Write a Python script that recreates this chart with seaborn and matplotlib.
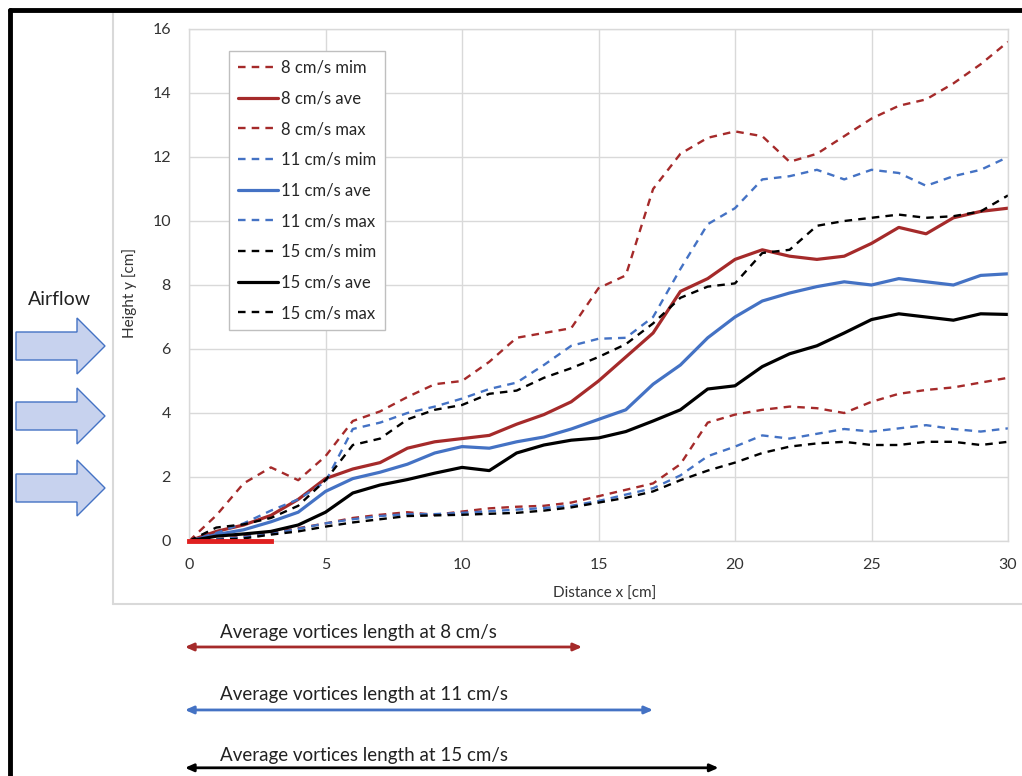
import numpy as np
import pandas as pd
import seaborn as sns
import matplotlib.pyplot as plt
from matplotlib.patches import Polygon
from matplotlib.lines import Line2D

# distance along the bed [cm]
x_cm = list(range(31))

# 8 cm/s
min_8 = [0, 0.05, 0.15, 0.25, 0.4, 0.55, 0.72, 0.82, 0.9, 0.82, 0.92, 1.02, 1.07, 1.1, 1.2, 1.4,
         1.6, 1.8, 2.4, 3.7, 3.95, 4.1, 4.2, 4.15, 4.0, 4.35, 4.6, 4.72, 4.8, 4.95, 5.1]
ave_8 = [0, 0.3, 0.5, 0.8, 1.3, 1.95, 2.25, 2.45, 2.9, 3.1, 3.2, 3.3, 3.65, 3.95, 4.35, 5.0,
         5.75, 6.5, 7.8, 8.2, 8.8, 9.1, 8.9, 8.8, 8.9, 9.3, 9.8, 9.6, 10.1, 10.3, 10.4]
max_8 = [0, 0.8, 1.8, 2.3, 1.9, 2.65, 3.75, 4.05, 4.5, 4.9, 5.0, 5.6, 6.35, 6.5, 6.65, 7.9,
         8.3, 11.0, 12.1, 12.6, 12.8, 12.65, 11.85, 12.1, 12.65, 13.2, 13.6, 13.8, 14.3, 14.9, 15.6]

# 11 cm/s
min_11 = [0, 0.05, 0.12, 0.22, 0.38, 0.55, 0.68, 0.78, 0.84, 0.84, 0.88, 0.93, 0.98, 1.03, 1.1, 1.25,
          1.45, 1.65, 2.05, 2.65, 2.95, 3.3, 3.2, 3.35, 3.5, 3.42, 3.52, 3.62, 3.5, 3.42, 3.52]
ave_11 = [0, 0.2, 0.35, 0.6, 0.9, 1.55, 1.95, 2.15, 2.4, 2.75, 2.95, 2.9, 3.1, 3.25, 3.5, 3.8,
          4.1, 4.9, 5.5, 6.35, 7.0, 7.5, 7.75, 7.95, 8.1, 8.0, 8.2, 8.1, 8.0, 8.3, 8.35]
max_11 = [0, 0.25, 0.55, 0.95, 1.3, 1.85, 3.5, 3.7, 4.0, 4.2, 4.45, 4.75, 4.95, 5.5, 6.1, 6.32,
          6.35, 7.0, 8.5, 9.9, 10.4, 11.3, 11.4, 11.6, 11.3, 11.6, 11.5, 11.1, 11.4, 11.6, 12.0]

# 15 cm/s
min_15 = [0, 0.03, 0.08, 0.2, 0.3, 0.45, 0.58, 0.68, 0.78, 0.8, 0.82, 0.85, 0.88, 0.95, 1.05, 1.2,
          1.35, 1.55, 1.9, 2.2, 2.45, 2.75, 2.95, 3.05, 3.1, 3.0, 3.0, 3.1, 3.1, 3.0, 3.1]
ave_15 = [0, 0.15, 0.22, 0.3, 0.5, 0.9, 1.5, 1.75, 1.92, 2.12, 2.3, 2.2, 2.75, 3.0, 3.15, 3.22,
          3.42, 3.75, 4.1, 4.75, 4.85, 5.45, 5.85, 6.1, 6.5, 6.92, 7.1, 7.0, 6.9, 7.1, 7.08]
max_15 = [0, 0.42, 0.52, 0.72, 1.1, 1.9, 3.0, 3.2, 3.8, 4.1, 4.25, 4.6, 4.7, 5.1, 5.4, 5.75,
          6.15, 6.8, 7.6, 7.95, 8.05, 9.0, 9.1, 9.85, 10.0, 10.1, 10.2, 10.1, 10.15, 10.3, 10.8]

# source strip at the bed and mean vortex lengths [cm]
source_x = [0, 3]
speeds = ["8 cm/s", "11 cm/s", "15 cm/s"]
vortex_len = [14.4, 17.0, 19.4]

red, blue, black = "#a52a2a", "#4472c4", "#000000"
series = [
    ("8 cm/s mim", min_8, red, True), ("8 cm/s ave", ave_8, red, False), ("8 cm/s max", max_8, red, True),
    ("11 cm/s mim", min_11, blue, True), ("11 cm/s ave", ave_11, blue, False), ("11 cm/s max", max_11, blue, True),
    ("15 cm/s mim", min_15, black, True), ("15 cm/s ave", ave_15, black, False), ("15 cm/s max", max_15, black, True),
]

sns.set_style("whitegrid")
plt.rcParams['font.family'] = ['Lato', 'DejaVu Sans']

W, H = 1022, 776
fig = plt.figure(figsize=(W / 100, H / 100), dpi=100)
ax = fig.add_axes([189 / W, 1 - 541 / H, (1008 - 189) / W, (541 - 29) / H])

for name, vals, col, dashed in series:
    df = pd.DataFrame({"x": x_cm, "y": vals})
    sns.lineplot(data=df, x="x", y="y", ax=ax, color=col, label=name,
                 lw=1.7 if dashed else 2.3,
                 linestyle=(0, (3.2, 2.6)) if dashed else "-")

ax.plot(source_x, [0, 0], color="#e02020", lw=3.5, solid_capstyle="projecting", clip_on=False, zorder=5)

ax.set_xlim(0, 30)
ax.set_ylim(0, 16)
ax.set_xticks(range(0, 31, 5))
ax.set_yticks(range(0, 17, 2))
ax.grid(color="#d9d9d9", lw=1)
for s in ax.spines.values():
    s.set_color("#d9d9d9")
    s.set_linewidth(1)
ax.tick_params(axis="x", length=0, pad=12, labelsize=11.5, colors="#333333")
ax.tick_params(axis="y", length=0, pad=13, labelsize=11.5, colors="#333333")
ax.set_xlabel("Distance x [cm]", fontsize=11, color="#333333")
ax.set_ylabel("Height y [cm]", fontsize=11, color="#333333")
ax.xaxis.set_label_coords(0.508, -0.09)
ax.yaxis.set_label_coords(-0.0635, 0.484)

leg = ax.legend(loc="upper left", bbox_to_anchor=(0.049, 0.958), fontsize=12,
                frameon=True, fancybox=False, framealpha=1, edgecolor="#bfbfbf",
                handlelength=2.4, handletextpad=0.15, labelspacing=0.88, borderpad=0.55,
                borderaxespad=0)
leg.get_frame().set_linewidth(1)

# vortex length arrows under the axes
xt = ax.get_xaxis_transform()
arrow_y = [-0.207, -0.330, -0.443]
text_y = [-0.178, -0.300, -0.418]
for sp, L, col, ay, ty in zip(speeds, vortex_len, [red, blue, black], arrow_y, text_y):
    ax.annotate("", xy=(L, ay), xytext=(-0.15, ay), xycoords=xt, textcoords=xt,
                arrowprops=dict(arrowstyle="<|-|>,head_length=0.5,head_width=0.22",
                                color=col, lw=2, shrinkA=0, shrinkB=0))
    ax.text(1.15, ty, f"Average vortices length at {sp}", transform=xt,
            fontsize=13.5, color="#222222", va="center", ha="left")


def fp(px, py):
    return (px / W, 1 - py / H)


# airflow block arrows
for c in [346, 416, 488]:
    pts = [(16, c - 14), (77, c - 14), (77, c - 28), (105, c), (77, c + 28), (77, c + 14), (16, c + 14)]
    fig.patches.append(Polygon([fp(*p) for p in pts], closed=True, transform=fig.transFigure,
                               facecolor="#c7d2ee", edgecolor="#4472c4", lw=1))
fig.text(*fp(59, 300), "Airflow", fontsize=14, ha="center", va="center", color="#222222")

# chart area frame and outer border
fig.add_artist(Line2D([113 / W, 113 / W], [1 - 12 / H, 1 - 604 / H], transform=fig.transFigure,
                      color="#d9d9d9", lw=1.5))
fig.add_artist(Line2D([113 / W, 1], [1 - 604 / H, 1 - 604 / H], transform=fig.transFigure,
                      color="#d9d9d9", lw=1.5))
fig.add_artist(Line2D([9.5 / W, 9.5 / W], [0, 1 - 9.5 / H], transform=fig.transFigure,
                      color="black", lw=3.5))
fig.add_artist(Line2D([9.5 / W, 1], [1 - 9.5 / H, 1 - 9.5 / H], transform=fig.transFigure,
                      color="black", lw=3.5))

fig.savefig("out.png", dpi=100)
